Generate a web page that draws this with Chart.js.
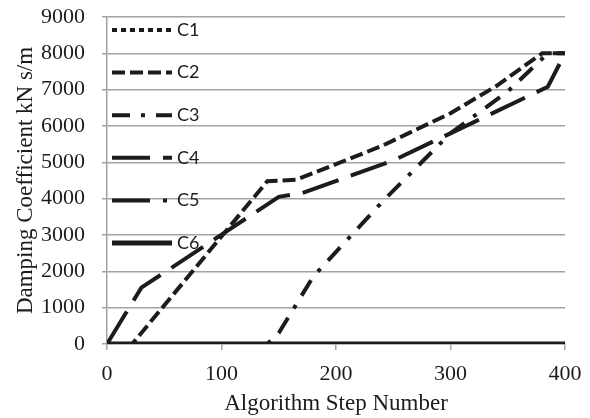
<!DOCTYPE html>
<html>
<head>
<meta charset="utf-8">
<script src="https://cdn.jsdelivr.net/npm/chart.js@4/dist/chart.umd.min.js"></script>
<style>
  html, body { margin: 0; padding: 0; background: #fff; }
  #wrap { width: 590px; height: 418px; }
</style>
</head>
<body>
<div id="wrap"><canvas id="chart" width="590" height="418"></canvas></div>
<script>
// ============================================================
// Damping coefficient vs algorithm step (C1..C6)
// ============================================================

// ===== Datos =====
const SERIES_NAMES = ["C1", "C2", "C3", "C4", "C5", "C6"];
const X_TICKS = [0, 100, 200, 300, 400];
const Y_TICKS = [0, 1000, 2000, 3000, 4000, 5000, 6000, 7000, 8000, 9000];

// C1 / C5 no se ven: quedan bajo C6 en cero
const C1_STEPS = [0, 400];
const C1_VALUES = [0, 0];

const C2_STEPS = [0, 22, 140, 165, 200, 240, 300, 340, 380, 400];
const C2_VALUES = [0, 0, 4480, 4520, 4950, 5450, 6350, 7100, 8000, 8000];

const C3_STEPS = [0, 140, 150, 180, 240, 300, 350, 385, 400];
const C3_VALUES = [0, 0, 300, 1850, 3900, 5800, 6950, 8000, 8000];

const C4_STEPS = [0, 30, 150, 170, 250, 320, 385, 400];
const C4_VALUES = [0, 1550, 4050, 4150, 5050, 6100, 7080, 8000];

const C5_STEPS = [0, 400];
const C5_VALUES = [0, 0];

const C6_STEPS = [0, 400];
const C6_VALUES = [0, 0];

(function () {
  "use strict";

  const INK = "#1c1c1c";
  const GRID = "#a3a3a3";
  const SERIF = "'Liberation Serif', 'Times New Roman', serif";

  function toPoints(xs, ys) {
    return xs.map((x, i) => ({ x: x, y: ys[i] }));
  }

  function mkDataset(label, xs, ys, dash, width, order) {
    return {
      label: label,
      data: toPoints(xs, ys),
      borderColor: INK,
      borderWidth: width,
      borderDash: dash,
      borderCapStyle: "butt",
      pointRadius: 0,
      tension: 0,
      fill: false,
      order: order,
    };
  }

  // Leyenda dentro del área de trazado (esquina superior izquierda)
  const legendInside = {
    id: "legendInside",
    afterDatasetsDraw(chart) {
      const ctx = chart.ctx;
      const area = chart.chartArea;
      chart.data.datasets.forEach((ds, i) => {
        const y = area.top + 13 + i * 42.6;
        ctx.save();
        ctx.strokeStyle = ds.borderColor;
        ctx.lineWidth = ds.borderWidth;
        ctx.lineCap = "butt";
        ctx.setLineDash(ds.borderDash || []);
        ctx.beginPath();
        ctx.moveTo(area.left + 5, y);
        ctx.lineTo(area.left + 65, y);
        ctx.stroke();
        ctx.setLineDash([]);
        ctx.fillStyle = INK;
        ctx.font = "18px Lato, 'Open Sans', sans-serif";
        ctx.textBaseline = "middle";
        ctx.fillText(ds.label, area.left + 70, y);
        ctx.restore();
      });
    },
  };

  const datasets = [
    mkDataset(SERIES_NAMES[0], C1_STEPS, C1_VALUES, [5, 4], 4, 5),
    mkDataset(SERIES_NAMES[1], C2_STEPS, C2_VALUES, [13, 5], 4, 4),
    mkDataset(SERIES_NAMES[2], C3_STEPS, C3_VALUES, [18, 11, 4, 11], 4, 3),
    mkDataset(SERIES_NAMES[3], C4_STEPS, C4_VALUES, [38, 13], 4, 2),
    mkDataset(SERIES_NAMES[4], C5_STEPS, C5_VALUES, [38, 13, 4, 13], 4, 1),
    mkDataset(SERIES_NAMES[5], C6_STEPS, C6_VALUES, [], 5, 0),
  ];

  const ctx = document.getElementById("chart").getContext("2d");
  new Chart(ctx, {
    type: "line",
    data: { datasets: datasets },
    plugins: [legendInside],
    options: {
      responsive: false,
      animation: false,
      devicePixelRatio: 1,
      layout: { padding: { top: 17, right: 25, bottom: 0, left: 0 } },
      plugins: { legend: { display: false }, tooltip: { enabled: false } },
      scales: {
        x: {
          type: "linear",
          min: X_TICKS[0],
          max: X_TICKS[X_TICKS.length - 1],
          afterBuildTicks: (s) => { s.ticks = X_TICKS.map((v) => ({ value: v })); },
          afterFit: (s) => {
            s.height = 74;
            s.paddingLeft = 0;
            s.paddingRight = 0;
          },
          grid: { drawOnChartArea: false, drawTicks: true, tickLength: 6, color: GRID, lineWidth: 1.5 },
          border: { color: GRID, width: 1.5 },
          ticks: { color: INK, font: { family: SERIF, size: 22 }, padding: 11, maxRotation: 0, callback: (v) => String(v) },
          title: {
            display: true,
            text: "Algorithm Step Number",
            color: INK,
            font: { family: SERIF, size: 23 },
            padding: { top: 0, bottom: 0 },
          },
        },
        y: {
          min: Y_TICKS[0],
          max: Y_TICKS[Y_TICKS.length - 1],
          afterBuildTicks: (s) => { s.ticks = Y_TICKS.map((v) => ({ value: v })); },
          afterFit: (s) => {
            s.width = 107;
            s.paddingTop = 0;
            s.paddingBottom = 0;
          },
          grid: { color: GRID, lineWidth: 1.5, tickLength: 5 },
          border: { color: GRID, width: 1.5 },
          ticks: { color: INK, font: { family: SERIF, size: 22 }, padding: 17, callback: (v) => String(v) },
          title: {
            display: true,
            text: "Damping Coefficient kN s/m",
            color: INK,
            font: { family: SERIF, size: 23 },
            padding: { top: 12, bottom: 0 },
          },
        },
      },
    },
  });
})();
</script>
</body>
</html>
